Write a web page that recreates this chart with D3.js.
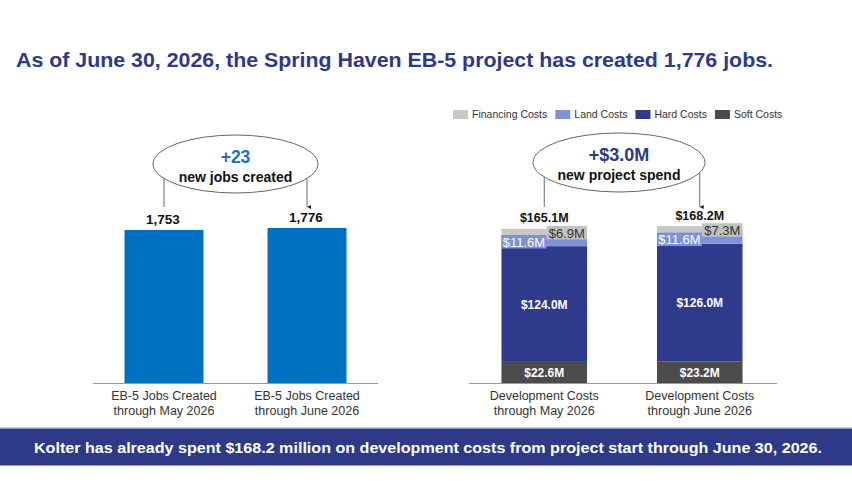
<!DOCTYPE html>
<html>
<head>
<meta charset="utf-8">
<script src="https://cdn.jsdelivr.net/npm/d3@7/dist/d3.min.js"></script>
<style>
  html, body { margin: 0; padding: 0; background: #fff; }
  svg { display: block; font-family: "Liberation Sans", Arial, sans-serif; }
</style>
</head>
<body>
<svg id="chart" width="852" height="502"></svg>
<script>
// ---------- DATA ----------
const titleText = "As of June 30, 2026, the Spring Haven EB-5 project has created 1,776 jobs.";
const footerText = "Kolter has already spent $168.2 million on development costs from project start through June 30, 2026.";

const jobCategories = ["May", "June"];
const jobLabelLine1 = ["EB-5 Jobs Created", "EB-5 Jobs Created"];
const jobLabelLine2 = ["through May 2026", "through June 2026"];
const jobsCreated = [1753, 1776];
const jobsDeltaText = "+23";
const jobsDeltaCaption = "new jobs created";

const devCategories = ["May", "June"];
const devLabelLine1 = ["Development Costs", "Development Costs"];
const devLabelLine2 = ["through May 2026", "through June 2026"];
const softCosts = [22.6, 23.2];
const hardCosts = [124.0, 126.0];
const landCosts = [11.6, 11.6];
const financingCosts = [6.9, 7.3];
const devTotals = [165.1, 168.2];
const devDeltaText = "+$3.0M";
const devDeltaCaption = "new project spend";

const seriesNames = ["Soft Costs", "Hard Costs", "Land Costs", "Financing Costs"];
const legendOrder = ["Financing Costs", "Land Costs", "Hard Costs", "Soft Costs"];

// ---------- STYLE ----------
const colors = {
  "Soft Costs": "#4b4b4b",
  "Hard Costs": "#2e3a8c",
  "Land Costs": "#7f93d6",
  "Financing Costs": "#c8c8c8"
};
const navy = "#2e3a87";
const jobBlue = "#0070c0";
const textGray = "#333333";

const svg = d3.select("#chart");

// marker
svg.append("defs").append("marker")
  .attr("id", "arrow").attr("viewBox", "0 0 10 10")
  .attr("refX", 5).attr("refY", 10)
  .attr("markerWidth", 5).attr("markerHeight", 5)
  .attr("orient", "auto-start-reverse")
  .append("path").attr("d", "M0,0 L10,0 L5,10 Z").attr("fill", "#222");

// ---------- TITLE ----------
svg.append("text")
  .attr("x", 16).attr("y", 66.5)
  .attr("font-size", 21).attr("font-weight", "bold").attr("fill", navy)
  .attr("textLength", 757).attr("lengthAdjust", "spacingAndGlyphs")
  .text(titleText);

// ---------- FOOTER ----------
svg.append("rect").attr("x", 0).attr("y", 427).attr("width", 852).attr("height", 1.5).attr("fill", "#c9d2e6");
svg.append("rect").attr("x", 0).attr("y", 428.5).attr("width", 852).attr("height", 37).attr("fill", navy);
svg.append("text")
  .attr("x", 34).attr("y", 452.7)
  .attr("font-size", 15.5).attr("font-weight", "bold").attr("fill", "#fff")
  .attr("textLength", 788).attr("lengthAdjust", "spacingAndGlyphs")
  .text(footerText);

// ---------- helper for ellipse annotation ----------
function annotation(cx, cy, rx, ry, bigText, bigSize, bigColor, bigY, caption, capY, leftX, leftY2, rightX, rightY2) {
  const g = svg.append("g");
  function edgeY(x) {
    const dx = (x - cx) / rx;
    return cy + ry * Math.sqrt(Math.max(0, 1 - dx * dx));
  }
  g.append("line").attr("x1", leftX).attr("x2", leftX)
    .attr("y1", edgeY(leftX)).attr("y2", leftY2)
    .attr("stroke", "#444").attr("stroke-width", 0.8);
  g.append("line").attr("x1", rightX).attr("x2", rightX)
    .attr("y1", edgeY(rightX)).attr("y2", rightY2)
    .attr("stroke", "#444").attr("stroke-width", 0.8)
    .attr("marker-end", "url(#arrow)");
  g.append("ellipse").attr("cx", cx).attr("cy", cy).attr("rx", rx).attr("ry", ry)
    .attr("fill", "#fff").attr("stroke", "#555").attr("stroke-width", 0.9);
  g.append("text").attr("x", cx).attr("y", bigY).attr("text-anchor", "middle")
    .attr("font-size", bigSize).attr("font-weight", "bold").attr("fill", bigColor).text(bigText);
  g.append("text").attr("x", cx).attr("y", capY).attr("text-anchor", "middle")
    .attr("font-size", 14).attr("font-weight", "bold").attr("fill", "#111").text(caption);
}

// ---------- LEFT CHART: jobs ----------
const baseY = 383;
const xJobs = d3.scaleBand().domain(jobCategories).range([93, 378])
  .paddingInner(0.4476).paddingOuter(0.2203);
const yJobs = d3.scaleLinear().domain([0, 2000]).range([baseY, baseY - 174.6]);

const jobsData = jobCategories.map((c, i) => ({ c, v: jobsCreated[i], l1: jobLabelLine1[i], l2: jobLabelLine2[i] }));

svg.append("g").selectAll("rect").data(jobsData).join("rect")
  .attr("x", d => xJobs(d.c)).attr("width", xJobs.bandwidth())
  .attr("y", d => yJobs(d.v)).attr("height", d => yJobs(0) - yJobs(d.v))
  .attr("fill", jobBlue);

svg.append("g").selectAll("text").data(jobsData).join("text")
  .attr("x", d => xJobs(d.c) + xJobs.bandwidth() / 2 - 1)
  .attr("y", d => yJobs(d.v) - 6)
  .attr("text-anchor", "middle").attr("font-size", 13.5).attr("font-weight", "bold").attr("fill", "#111")
  .text(d => d3.format(",")(d.v));

// axis line
svg.append("line").attr("x1", 93).attr("x2", 378).attr("y1", baseY + 0.5).attr("y2", baseY + 0.5)
  .attr("stroke", "#9a9a9a").attr("stroke-width", 1);

const jl = svg.append("g").selectAll("text").data(jobsData).join("text")
  .attr("text-anchor", "middle").attr("font-size", 12.5).attr("fill", textGray);
jl.append("tspan").attr("x", d => xJobs(d.c) + xJobs.bandwidth() / 2).attr("y", 400).text(d => d.l1);
jl.append("tspan").attr("x", d => xJobs(d.c) + xJobs.bandwidth() / 2).attr("y", 414.5).text(d => d.l2);

{
  const x0 = xJobs(jobCategories[0]) + xJobs.bandwidth() / 2;
  const x1 = xJobs(jobCategories[1]) + xJobs.bandwidth() / 2;
  annotation((x0 + x1) / 2, 164, 82.5, 29, jobsDeltaText, 17.5, "#1f72c0", 163,
    jobsDeltaCaption, 182, x0, 207, x1, 207);
}

// ---------- RIGHT CHART: development costs ----------
const xDev = d3.scaleBand().domain(devCategories).range([467, 777])
  .paddingInner(0.4498).paddingOuter(0.2217);
const yDev = d3.scaleLinear().domain([0, 180]).range([baseY, baseY - 168]);

const seriesValues = {
  "Soft Costs": softCosts,
  "Hard Costs": hardCosts,
  "Land Costs": landCosts,
  "Financing Costs": financingCosts
};
const devRows = devCategories.map((c, i) => {
  const r = { c };
  seriesNames.forEach(s => r[s] = seriesValues[s][i]);
  return r;
});
const stacked = d3.stack().keys(seriesNames)(devRows);

const segG = svg.append("g");
stacked.forEach(layer => {
  segG.append("g").attr("fill", colors[layer.key])
    .selectAll("rect").data(layer).join("rect")
    .attr("x", d => xDev(d.data.c)).attr("width", xDev.bandwidth())
    .attr("y", d => yDev(d[1])).attr("height", d => yDev(d[0]) - yDev(d[1]));
});

// axis line
svg.append("line").attr("x1", 469).attr("x2", 777).attr("y1", baseY + 0.5).attr("y2", baseY + 0.5)
  .attr("stroke", "#9a9a9a").attr("stroke-width", 1);

const fmtM = v => "$" + d3.format(".1f")(v) + "M";

// soft + hard labels (inside, white bold)
["Soft Costs", "Hard Costs"].forEach(key => {
  const layer = stacked.find(l => l.key === key);
  svg.append("g").selectAll("text").data(layer).join("text")
    .attr("x", d => xDev(d.data.c) + xDev.bandwidth() / 2)
    .attr("y", d => (yDev(d[0]) + yDev(d[1])) / 2 + 4.5)
    .attr("text-anchor", "middle").attr("font-size", 12).attr("font-weight", "bold").attr("fill", "#fff")
    .text(d => fmtM(d.data[key]));
});

// land label (boxed, left) and financing label (boxed, right)
const landLayer = stacked.find(l => l.key === "Land Costs");
const finLayer = stacked.find(l => l.key === "Financing Costs");
const landBoxW = 45, boxH = 13.5;

const landG = svg.append("g").selectAll("g").data(landLayer).join("g");
landG.append("rect")
  .attr("x", d => xDev(d.data.c))
  .attr("y", d => (yDev(d[0]) + yDev(d[1])) / 2 + 1 - boxH / 2)
  .attr("width", landBoxW).attr("height", boxH).attr("fill", "#7d91d4");
landG.append("text")
  .attr("x", d => xDev(d.data.c) + landBoxW / 2)
  .attr("y", d => (yDev(d[0]) + yDev(d[1])) / 2 + 1 + 5)
  .attr("text-anchor", "middle").attr("font-size", 13).attr("fill", "#fff")
  .text(d => fmtM(d.data["Land Costs"]));

const finG = svg.append("g").selectAll("g").data(finLayer).join("g");
finG.append("rect")
  .attr("x", d => xDev(d.data.c) + landBoxW)
  .attr("y", d => (yDev(d[0]) + yDev(d[1])) / 2 + 0.5 - boxH / 2)
  .attr("width", xDev.bandwidth() - landBoxW).attr("height", boxH).attr("fill", "#c2c2c2");
finG.append("text")
  .attr("x", d => xDev(d.data.c) + landBoxW + (xDev.bandwidth() - landBoxW) / 2)
  .attr("y", d => (yDev(d[0]) + yDev(d[1])) / 2 + 0.5 + 5)
  .attr("text-anchor", "middle").attr("font-size", 13).attr("fill", "#333")
  .text(d => fmtM(d.data["Financing Costs"]));

// totals
svg.append("g").selectAll("text").data(devCategories).join("text")
  .attr("x", c => xDev(c) + xDev.bandwidth() / 2)
  .attr("y", (c, i) => yDev(d3.sum(seriesNames, s => seriesValues[s][i])) - 6.5)
  .attr("text-anchor", "middle").attr("font-size", 12.5).attr("font-weight", "bold").attr("fill", "#111")
  .text((c, i) => fmtM(devTotals[i]));

// category labels
const dl = svg.append("g").selectAll("text").data(devCategories).join("text")
  .attr("text-anchor", "middle").attr("font-size", 12.5).attr("fill", textGray);
dl.append("tspan").attr("x", c => xDev(c) + xDev.bandwidth() / 2).attr("y", 400).text((c, i) => devLabelLine1[i]);
dl.append("tspan").attr("x", c => xDev(c) + xDev.bandwidth() / 2).attr("y", 414.5).text((c, i) => devLabelLine2[i]);

{
  const x0 = xDev(devCategories[0]) + xDev.bandwidth() / 2;
  const x1 = xDev(devCategories[1]) + xDev.bandwidth() / 2;
  annotation((x0 + x1) / 2 - 3, 162.5, 86, 29.5, devDeltaText, 18, navy, 161,
    devDeltaCaption, 179.5, x0, 207, x1, 207);
}

// ---------- LEGEND ----------
{
  const lg = svg.append("g");
  let x = 453;
  legendOrder.forEach(name => {
    lg.append("rect").attr("x", x).attr("y", 110).attr("width", 15).attr("height", 9).attr("fill", colors[name]);
    const t = lg.append("text").attr("x", x + 19).attr("y", 118)
      .attr("font-size", 10.5).attr("fill", textGray).text(name);
    x = x + 19 + t.node().getComputedTextLength() + 8;
  });
}
</script>
</body>
</html>
